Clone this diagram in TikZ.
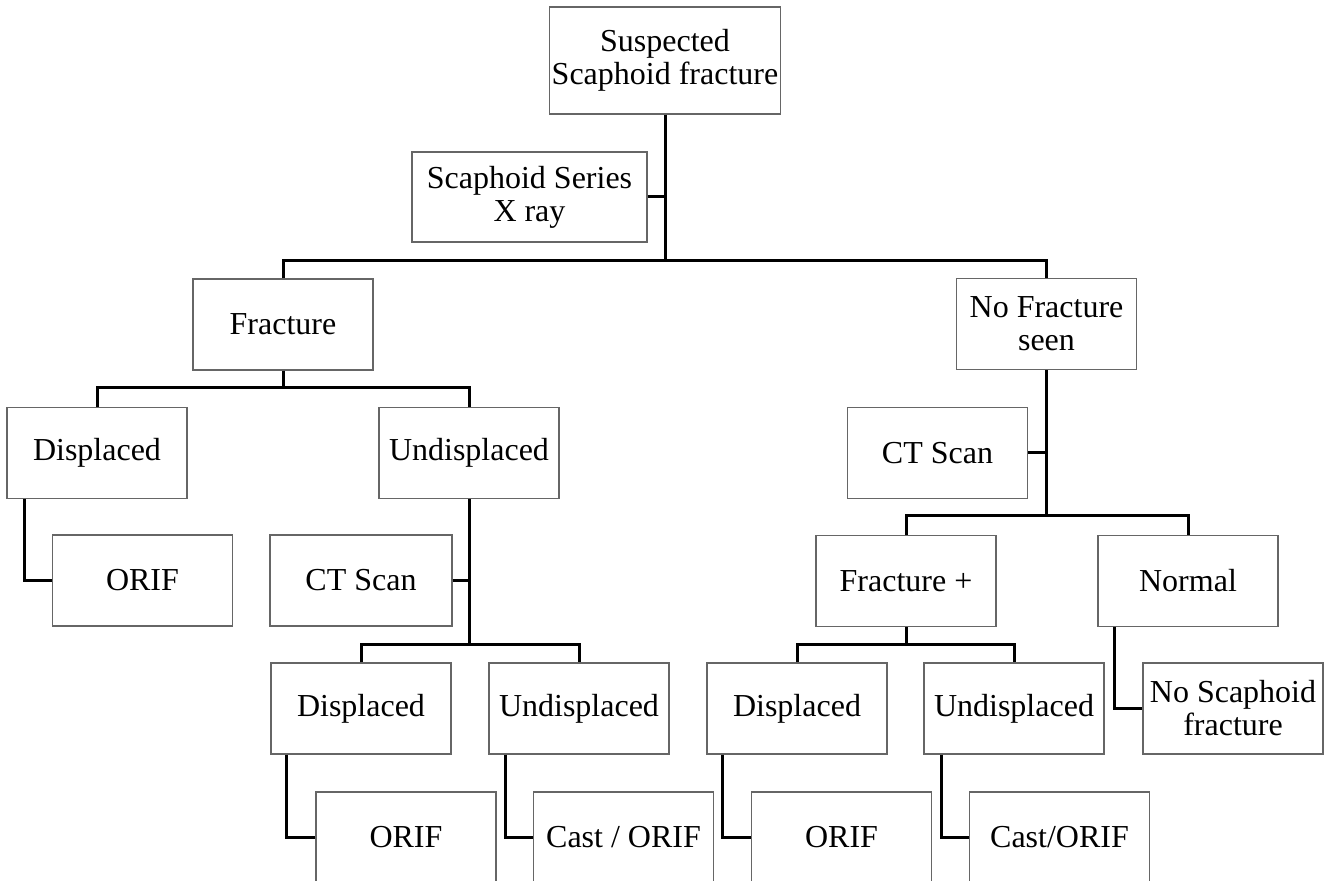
\documentclass[tikz,border=0pt]{standalone}
\usepackage{fontspec}
\setmainfont{Liberation Serif}

\tikzset{
  box/.style={draw=black!60, line width=0.6pt, align=center, inner sep=0pt,
    minimum width=90pt, minimum height=45.5pt,
    font=\fontsize{16}{16.5}\selectfont},
  wire/.style={line width=1.5pt}
}

\begin{document}
\begin{tikzpicture}[x=0.5pt, y=-0.5pt]
  \useasboundingbox (0,0) rectangle (1333,881);

  % top
  \node[box, minimum width=115.5pt, minimum height=53.5pt] (root) at (665,60.5) {Suspected\\Scaphoid fracture};
  \node[box, minimum width=117.5pt, minimum height=45pt] (xray) at (529.5,197) {Scaphoid Series\\X ray};

  % second row
  \node[box] (frac)   at (283,324.5)  {Fracture};
  \node[box] (nofrac) at (1046.5,324) {No Fracture\\seen};

  % fracture branch
  \node[box] (disp1)   at (97,453)    {Displaced};
  \node[box] (undisp1) at (469,453)   {Undisplaced};
  \node[box] (orif1)   at (142.5,580.5) {ORIF};
  \node[box, minimum width=91pt] (ct1) at (361,580.5) {CT Scan};
  \node[box] (disp2)   at (361,708.5) {Displaced};
  \node[box] (undisp2) at (579,708.5) {Undisplaced};
  \node[box] (orif2)   at (406,837.5) {ORIF};
  \node[box] (cast1)   at (623.5,837.5) {Cast / ORIF};

  % no fracture branch
  \node[box] (ct2)      at (937.5,453)  {CT Scan};
  \node[box] (fracplus) at (906,581)    {Fracture +};
  \node[box] (normal)   at (1188,581)   {Normal};
  \node[box] (disp3)    at (797,708.5)  {Displaced};
  \node[box] (undisp3)  at (1014,708.5) {Undisplaced};
  \node[box] (noscaph)  at (1233,708.5) {No Scaphoid\\fracture};
  \node[box] (orif3)    at (841.5,837.5)  {ORIF};
  \node[box] (cast2)    at (1059.5,837.5) {Cast/ORIF};

  \coordinate (b1) at (665,261);
  \coordinate (b2) at (283,388);
  \coordinate (b3) at (469,644);
  \coordinate (b4) at (1046.5,516);
  \coordinate (b5) at (906,644);

  \begin{scope}[wire]
    \draw (root) -- (b1);
    \draw (xray) -- (xray -| b1);
    \draw (frac.north) |- (b1) -| (nofrac.north);

    \draw (frac) -- (b2);
    \draw (disp1.north) |- (b2) -| (undisp1.north);
    \draw ([xshift=9pt]disp1.south west) |- (orif1);

    \draw (undisp1) -- (b3);
    \draw (ct1) -- (ct1 -| b3);
    \draw (disp2.north) |- (b3) -| (undisp2.north);
    \draw ([xshift=8pt]disp2.south west) |- (orif2);
    \draw ([xshift=8.5pt]undisp2.south west) |- (cast1);

    \draw (nofrac) -- (b4);
    \draw (ct2) -- (ct2 -| b4);
    \draw (fracplus.north) |- (b4) -| (normal.north);

    \draw (fracplus) -- (b5);
    \draw (disp3.north) |- (b5) -| (undisp3.north);
    \draw ([xshift=8pt]disp3.south west) |- (orif3);
    \draw ([xshift=9pt]undisp3.south west) |- (cast2);
    \draw ([xshift=8.5pt]normal.south west) |- (noscaph);
  \end{scope}
\end{tikzpicture}
\end{document}
